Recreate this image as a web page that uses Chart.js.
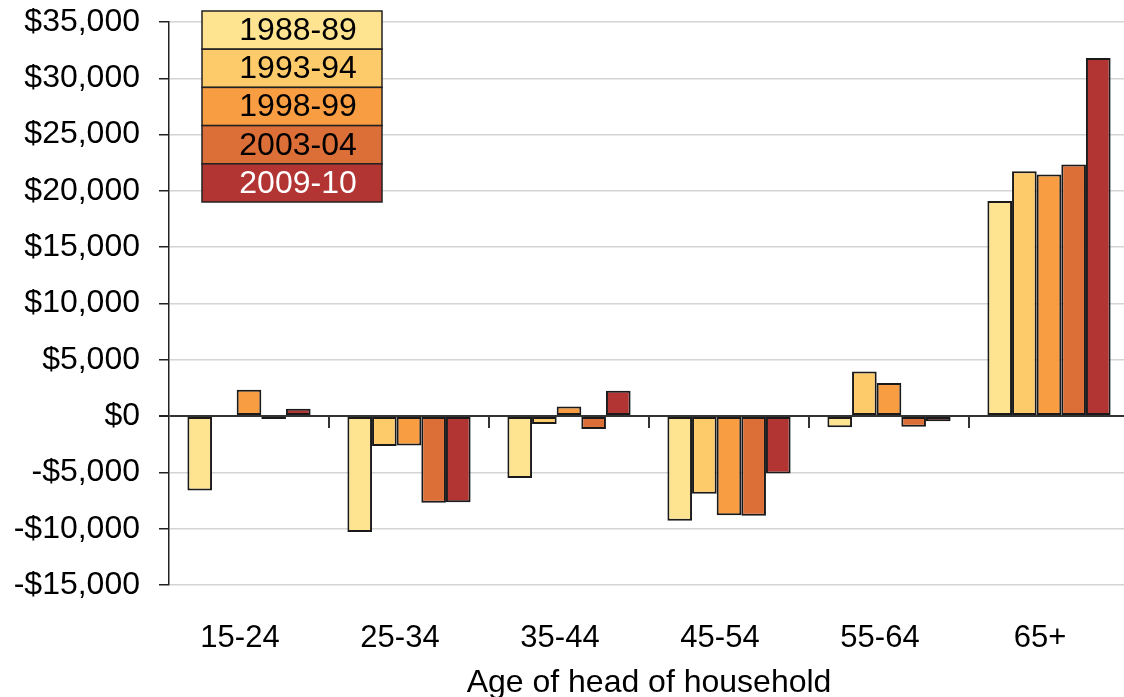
<!DOCTYPE html>
<html lang="en">
<head>
    <meta charset="UTF-8">
    <title>Change by age of head of household</title>
    <script src="https://cdn.jsdelivr.net/npm/chart.js@4.4.0/dist/chart.umd.min.js"></script>
    <style>
        body {
            margin: 0;
            overflow: hidden;
            background: #fff;
        }

        #wrap {
            width: 1129px;
            height: 697px;
        }
    </style>
</head>
<body>
    <div id="wrap"><canvas id="chart"></canvas></div>

    <script>
        const ageGroups = ['15-24', '25-34', '35-44', '45-54', '55-64', '65+'];
        const seriesLabels = ['1988-89', '1993-94', '1998-99', '2003-04', '2009-10'];
        const seriesColors = ['#fee490', '#fecb6a', '#f89d41', '#dc6e38', '#b23433'];
        const legendTextColors = ['#000', '#000', '#000', '#000', '#fff'];

        const v1988 = [-6600, -10300, -5500, -9300, -1000, 19100];
        const v1993 = [100, -2650, -700, -6900, 3950, 21750];
        const v1998 = [2350, -2600, 850, -8800, 2950, 21450];
        const v2003 = [-250, -7700, -1150, -8850, -950, 22350];
        const v2009 = [650, -7650, 2250, -5100, -450, 31800];
        const allSeries = [v1988, v1993, v1998, v2003, v2009];

        const FONT = "'Liberation Sans', Arial, sans-serif";

        function money(v) {
            const s = '$' + Math.abs(v).toLocaleString('en-US');
            return v < 0 ? '-' + s : s;
        }

        // small tick marks on the zero line between age groups
        const groupTicks = {
            id: 'groupTicks',
            afterDatasetsDraw(chart) {
                const x = chart.scales.x, y = chart.scales.y;
                const y0 = y.getPixelForValue(0);
                const ctx = chart.ctx;
                ctx.save();
                ctx.strokeStyle = '#333';
                ctx.lineWidth = 2;
                for (let i = 1; i < ageGroups.length; i++) {
                    const px = (x.getPixelForTick(i - 1) + x.getPixelForTick(i)) / 2;
                    ctx.beginPath();
                    ctx.moveTo(px, y0);
                    ctx.lineTo(px, y0 + 12);
                    ctx.stroke();
                }
                ctx.restore();
            }
        };

        // stacked box legend in the upper left
        const boxLegend = {
            id: 'boxLegend',
            afterDraw(chart) {
                const ctx = chart.ctx;
                const area = chart.chartArea;
                const left = area.left + 33;
                const top = area.top - 11;
                const w = 180, h = 38.2;
                ctx.save();
                ctx.font = '32px ' + FONT;
                ctx.textAlign = 'center';
                ctx.textBaseline = 'middle';
                seriesLabels.forEach((lab, i) => {
                    const ty = top + i * h;
                    ctx.fillStyle = seriesColors[i];
                    ctx.fillRect(left, ty, w, h);
                    ctx.strokeStyle = '#222';
                    ctx.lineWidth = 1.5;
                    ctx.strokeRect(left, ty, w, h);
                    ctx.fillStyle = legendTextColors[i];
                    ctx.fillText(lab, left + w / 2 + 6, ty + h / 2 + 1);
                });
                ctx.restore();
            }
        };

        new Chart(document.getElementById('chart'), {
            type: 'bar',
            data: {
                labels: ageGroups,
                datasets: seriesLabels.map((lab, i) => ({
                    label: lab,
                    data: allSeries[i],
                    backgroundColor: seriesColors[i],
                    borderColor: '#1a1a1a',
                    borderWidth: 2,
                    borderSkipped: false,
                    categoryPercentage: 0.77,
                    barPercentage: 1
                }))
            },
            options: {
                responsive: true,
                maintainAspectRatio: false,
                animation: false,
                layout: { padding: { top: 22, left: 0, right: 0, bottom: 0 } },
                plugins: {
                    legend: { display: false },
                    tooltip: { enabled: false }
                },
                scales: {
                    x: {
                        grid: { display: false, drawTicks: false },
                        border: { display: false },
                        ticks: {
                            color: '#000',
                            font: { family: FONT, size: 31 },
                            padding: 35,
                            labelOffset: -9
                        },
                        title: {
                            display: true,
                            text: 'Age of head of household',
                            color: '#000',
                            font: { family: FONT, size: 32, lineHeight: 1 },
                            padding: { top: 0, bottom: -2 }
                        },
                        afterFit(s) { s.height = 112; }
                    },
                    y: {
                        min: -15000,
                        max: 35000,
                        grid: {
                            color: ctx => ctx.tick && ctx.tick.value === 0 ? '#333' : '#d4d4d4',
                            lineWidth: ctx => ctx.tick && ctx.tick.value === 0 ? 2 : 1.5,
                            tickColor: '#222',
                            tickLength: 10
                        },
                        border: { color: '#222', width: 1.5 },
                        ticks: {
                            stepSize: 5000,
                            color: '#000',
                            font: { family: FONT, size: 32 },
                            padding: 19,
                            callback: v => money(v)
                        },
                        afterFit(s) {
                            s.width = 169;
                            s.paddingTop = 0;
                            s.paddingBottom = 0;
                        }
                    }
                }
            },
            plugins: [groupTicks, boxLegend]
        });
    </script>
</body>
</html>
